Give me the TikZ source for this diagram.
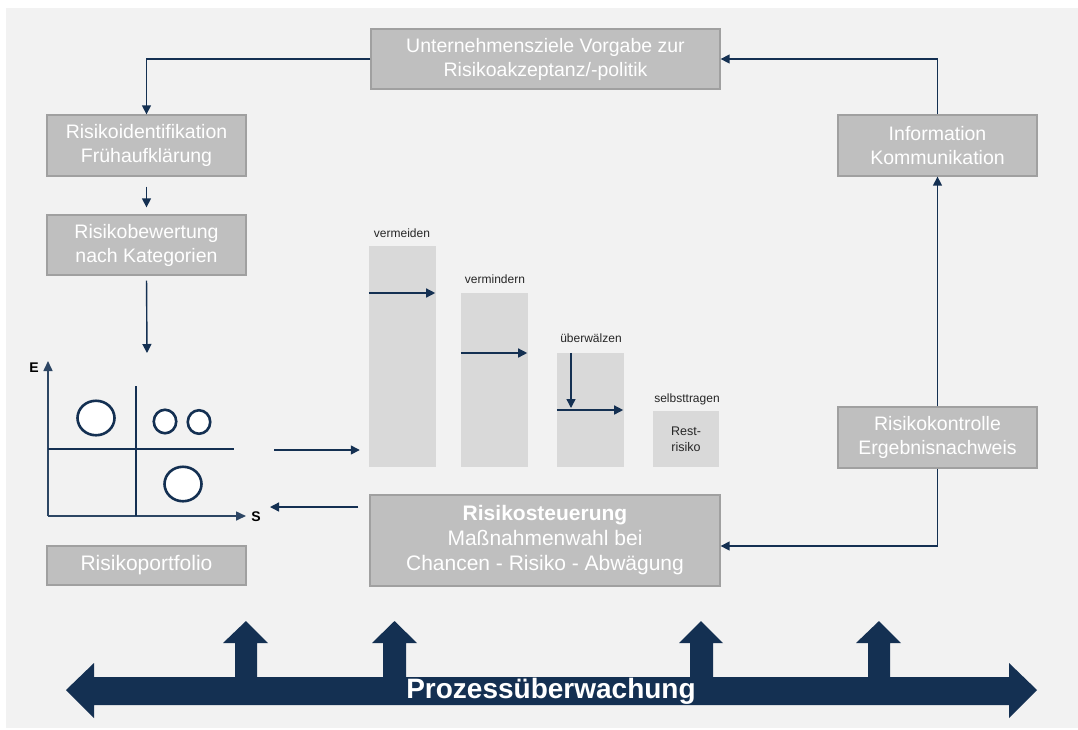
\documentclass[tikz,border=0pt]{standalone}
\usepackage{fontspec}
\setmainfont{Liberation Sans}
\usetikzlibrary{arrows.meta,calc}
\definecolor{navy}{RGB}{20,48,82}
\definecolor{axisc}{RGB}{45,70,100}
\definecolor{bgc}{RGB}{242,242,242}
\definecolor{boxgrey}{RGB}{191,191,191}
\definecolor{boxline}{RGB}{160,160,160}
\definecolor{bargrey}{RGB}{217,217,217}
\definecolor{txtdark}{RGB}{38,38,38}
\tikzset{
  box/.style={draw=boxline, line width=1.3pt, fill=boxgrey, text=white, align=center,
    inner sep=0pt, font=\fontsize{19.5}{24}\selectfont},
  bar/.style={fill=bargrey, inner sep=0pt, text=txtdark, align=center,
    font=\fontsize{12.5}{15.5}\selectfont},
  barlabel/.style={text=txtdark, inner sep=0pt, font=\fontsize{12}{14}\selectfont},
  conn/.style={draw=navy, line width=1.4pt, -{Triangle[length=9pt,width=9pt]}},
  axis/.style={draw=axisc, line width=1.6pt},
  divider/.style={draw=navy, line width=1.9pt},
  bubble/.style={ellipse, draw=navy, fill=white, line width=2.6pt, inner sep=0pt},
  axlabel/.style={inner sep=0pt, font=\bfseries\fontsize{14}{14}\selectfont, text=black}
}
\usetikzlibrary{shapes.geometric}
\begin{document}
\begin{tikzpicture}[x=1pt,y=-1pt]
\useasboundingbox (0,0) rectangle (1078,729);
\fill[white] (0,0) rectangle (1078,729);
\fill[bgc] (6,8) rectangle (1078,728);

% main boxes
\node[box, minimum width=349pt, minimum height=60pt] (top) at (545.5,59) {Unternehmensziele Vorgabe zur\\Risikoakzeptanz/-politik};
\node[box, minimum width=199pt, minimum height=61pt] (ident) at (146.5,145.5) {Risikoidentifikation\\Frühaufklärung};
\node[box, minimum width=199pt, minimum height=60pt] (bew) at (146.5,245) {Risikobewertung\\nach Kategorien};
\node[box, minimum width=199pt, minimum height=39pt, font=\fontsize{21}{25}\selectfont] (port) at (146.5,565.5) {Risikoportfolio};
\node[box, minimum width=199pt, minimum height=61pt] (info) at (937.5,145.5) {Information\\Kommunikation};
\node[box, minimum width=199pt, minimum height=61pt] (kon) at (937.5,437.5) {Risikokontrolle\\Ergebnisnachweis};
\node[box, minimum width=350pt, minimum height=91pt, font=\fontsize{21}{25}\selectfont] (steu) at (545,540.5) {\textbf{Risikosteuerung}\\Maßnahmenwahl bei\\Chancen - Risiko - Abwägung};

% bars
\node[bar, minimum width=67pt, minimum height=221pt] (vm) at (402.5,356.5) {};
\node[bar, minimum width=67pt, minimum height=174pt] (vd) at (494.5,380) {};
\node[bar, minimum width=67pt, minimum height=114pt] (uw) at (590.5,410) {};
\node[bar, minimum width=66pt, minimum height=56pt] (st) at (686,439) {Rest-\\risiko};
\node[barlabel] (lvm) at (402,233) {vermeiden};
\node[barlabel] (lvd) at (495,279) {vermindern};
\node[barlabel] (luw) at (591,338) {überwälzen};
\node[barlabel] (lst) at (687,399) {selbsttragen};

\draw[conn] (vm.west |- 0,293) -- ($(vm.east |- 0,293)+(-1,0)$);
\draw[conn] (vd.west |- 0,353) -- ($(vd.east |- 0,353)+(-1,0)$);
\draw[conn] (uw.west |- 0,410) -- ($(uw.east |- 0,410)+(-1,0)$);
\coordinate (uwdown) at (571,408);
\draw[conn] (uw.north -| uwdown) -- (uwdown);

% portfolio chart
\coordinate (origin) at (48,516);
\coordinate (etip) at (48,361);
\coordinate (stip) at (246,516);
\draw[axis, -{Triangle[length=10pt,width=9pt]}] (origin) -- (etip);
\draw[axis, -{Triangle[length=10pt,width=9pt]}] (origin) -- (stip);
\draw[divider] (136,386) -- (136,516);
\draw[divider] (48,449) -- (234,449);
\node[axlabel] (E) at (34,368) {E};
\node[axlabel] (S) at (256,517) {S};
\node[bubble, minimum width=37pt, minimum height=34.5pt] (c1) at (96,418) {};
\node[bubble, minimum width=22.5pt, minimum height=23.5pt] (c2) at (165,421.5) {};
\node[bubble, minimum width=22.5pt, minimum height=23.5pt] (c3) at (199,422) {};
\node[bubble, minimum width=37pt, minimum height=34.5pt] (c4) at (183,484) {};

% connectors
\draw[conn] (top.west) -| (ident.north);
\draw[conn, shorten <=10pt, shorten >=7pt] (ident.south) -- (bew.south |- bew.north);
\coordinate (pfin) at (147,353);
\draw[conn, shorten <=5pt] (bew.south) -- (pfin);
\coordinate (pfout) at (274,450);
\draw[conn, shorten >=9pt] (pfout) -- (vm.west |- pfout);
\coordinate (sIn) at (270,507);
\draw[conn, shorten <=11pt] (steu.west |- sIn) -- (sIn);
\draw[conn] (kon.south) |- ($(steu.east)+(0,5.5)$);
\draw[conn] (kon.north) -- (info.south);
\draw[conn] (info.north) |- (top.east);

% process arrow
\fill[navy] (66,690) -- (94,663) -- (94,677)
  -- (235,677) -- (235,643) -- (223,643) -- (246,621) -- (268,643) -- (257,643) -- (257,677)
  -- (383,677) -- (383,643) -- (372,643) -- (394.5,621) -- (417,643) -- (406,643) -- (406,677)
  -- (690,677) -- (690,643) -- (679,643) -- (701,621) -- (723,643) -- (713,643) -- (713,677)
  -- (868,677) -- (868,643) -- (856,643) -- (879,621) -- (901,643) -- (890,643) -- (890,677)
  -- (1009,677) -- (1009,663) -- (1037,690) -- (1009,718) -- (1009,705)
  -- (94,705) -- (94,718) -- cycle;
\node[text=white, inner sep=0pt, font=\bfseries\fontsize{28}{28}\selectfont] (proz) at (551,691) {Prozessüberwachung};
\end{tikzpicture}
\end{document}
